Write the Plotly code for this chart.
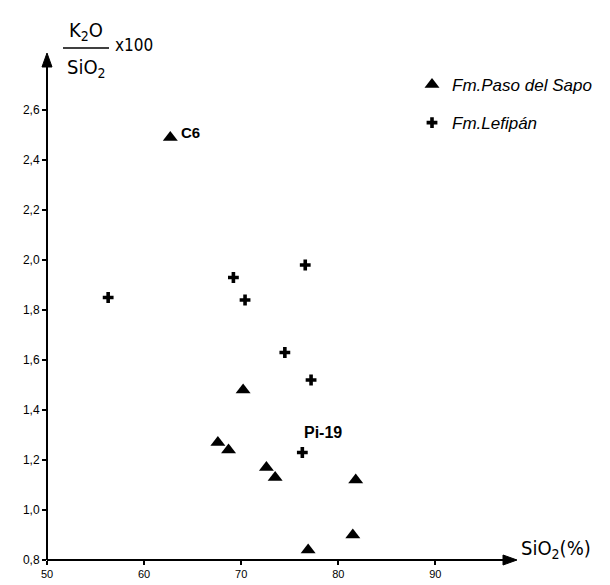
import plotly.graph_objects as go

# Data
sapo_x = [62.7, 70.2, 67.6, 68.7, 72.6, 73.5, 81.8, 81.5, 76.9]
sapo_y = [2.49, 1.48, 1.27, 1.24, 1.17, 1.13, 1.12, 0.90, 0.84]
lef_x = [56.3, 69.2, 70.4, 76.6, 74.5, 77.2, 76.3]
lef_y = [1.85, 1.93, 1.84, 1.98, 1.63, 1.52, 1.23]

x_ticks = [50, 60, 70, 80, 90]
x_ticklabels = ["50", "60", "70", "80", "90"]
y_ticks = [0.8, 1.0, 1.2, 1.4, 1.6, 1.8, 2.0, 2.2, 2.4, 2.6]
y_ticklabels = ["0,8", "1,0", "1,2", "1,4", "1,6", "1,8", "2,0", "2,2", "2,4", "2,6"]

point_labels = [("C6", 62.7, 2.49, 9, 5, 15), ("Pi-19", 76.3, 1.23, 0, 20, 16)]

X_RANGE = [50, 98]
Y_RANGE = [0.8, 2.82]

COND = "Liberation Sans Narrow, DejaVu Sans Condensed, Arial Narrow, sans-serif"
SANS = "Liberation Sans, Arial, sans-serif"

W, H = 610, 585
ML, MR, MT, MB = 47, 97, 55, 25
PW, PH = W - ML - MR, H - MT - MB


def px(xp):
    return (xp - ML) / PW


def py(yp):
    return (H - MB - yp) / PH


fig = go.Figure()
fig.add_trace(go.Scatter(
    x=sapo_x, y=sapo_y, mode="markers", name="<i>Fm.Paso del Sapo</i>",
    legendgroup="a",
    marker=dict(symbol="triangle-up", size=13, color="black"),
))
fig.add_trace(go.Scatter(
    x=lef_x, y=lef_y, mode="markers", name="<i>Fm.Lefipán</i>",
    legendgroup="b",
    marker=dict(symbol="cross", size=9, color="black"),
))

annotations = []
for txt, lx, ly, xs, ys, fs in point_labels:
    annotations.append(dict(x=lx, y=ly, xref="x", yref="y", text="<b>%s</b>" % txt,
                            showarrow=False, xanchor="left", yanchor="middle",
                            xshift=xs, yshift=ys,
                            font=dict(family=SANS, size=fs, color="black")))

# y axis title: K2O / SiO2 x100
annotations.append(dict(x=px(86), y=py(31), xref="paper", yref="paper",
                        text="K<sub>2</sub>O", showarrow=False, xanchor="center", yanchor="middle",
                        font=dict(family=COND, size=20, color="black")))
annotations.append(dict(x=px(86), y=py(68), xref="paper", yref="paper",
                        text="SiO<sub>2</sub>", showarrow=False, xanchor="center", yanchor="middle",
                        font=dict(family=COND, size=20, color="black")))
annotations.append(dict(x=px(113), y=py(45), xref="paper", yref="paper",
                        text="x100", showarrow=False, xanchor="left", yanchor="middle",
                        font=dict(family=COND, size=17, color="black")))
# x axis title
annotations.append(dict(x=px(519), y=py(549), xref="paper", yref="paper",
                        text="SiO<sub>2</sub>(%)", showarrow=False, xanchor="left", yanchor="middle",
                        font=dict(family=COND, size=20, color="black")))


def tri(points):
    return "M " + " L ".join("%f,%f" % (px(a), py(b)) for a, b in points) + " Z"


shapes = [
    # fraction bar
    dict(type="line", xref="paper", yref="paper", x0=px(63), x1=px(109),
         y0=py(48), y1=py(48), line=dict(color="black", width=1.5)),
    # x axis line + arrowhead
    dict(type="line", xref="paper", yref="paper", x0=px(47), x1=px(506),
         y0=py(560), y1=py(560), line=dict(color="black", width=2)),
    dict(type="path", xref="paper", yref="paper",
         path=tri([(517, 560), (503, 555), (503, 565)]),
         fillcolor="black", line=dict(color="black", width=1)),
    # y axis line + arrowhead
    dict(type="line", xref="paper", yref="paper", x0=px(47), x1=px(47),
         y0=py(560), y1=py(62), line=dict(color="black", width=2)),
    dict(type="path", xref="paper", yref="paper",
         path=tri([(47, 53), (42, 67), (52, 67)]),
         fillcolor="black", line=dict(color="black", width=1)),
]

fig.update_layout(
    width=W, height=H,
    margin=dict(l=ML, r=MR, t=MT, b=MB, autoexpand=False),
    paper_bgcolor="white", plot_bgcolor="white",
    showlegend=True,
    legend=dict(x=px(412), y=py(67), xanchor="left", yanchor="top",
                bgcolor="rgba(0,0,0,0)", tracegroupgap=13, traceorder="grouped",
                font=dict(family=SANS, size=17, color="black"),
                itemwidth=30),
    annotations=annotations,
    shapes=shapes,
    xaxis=dict(range=X_RANGE, tickvals=x_ticks, ticktext=x_ticklabels,
               showgrid=False, zeroline=False, showline=False,
               ticks="outside", ticklen=4, tickwidth=1.5, tickcolor="black",
               tickfont=dict(family=SANS, size=11, color="black"), fixedrange=True),
    yaxis=dict(range=Y_RANGE, tickvals=y_ticks, ticktext=y_ticklabels,
               showgrid=False, zeroline=False, showline=False,
               ticks="outside", ticklen=4, tickwidth=1.5, tickcolor="black",
               tickfont=dict(family=SANS, size=12, color="black"), fixedrange=True),
)

fig.write_html("out.html")
